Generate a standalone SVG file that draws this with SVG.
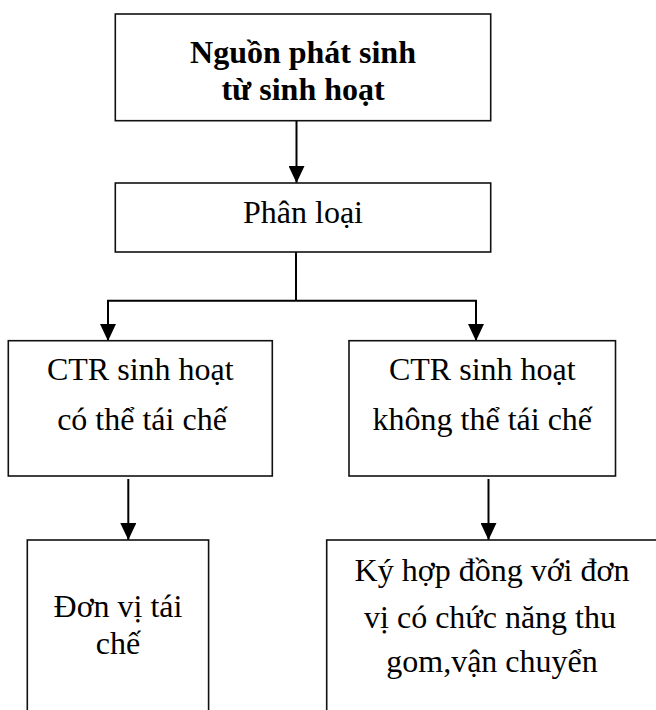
<svg xmlns="http://www.w3.org/2000/svg" width="656" height="710" viewBox="0 0 656 710">
<style>
.box{fill:#fff;stroke:#111;stroke-width:1.6}
text{font-family:'Liberation Serif','DejaVu Serif','Times New Roman',serif;font-size:32px;fill:#000;text-anchor:middle}
.b{font-weight:bold}
.c{fill:none;stroke:#000;stroke-width:2}
</style>
<defs>
<marker id="ah" markerUnits="userSpaceOnUse" markerWidth="18" markerHeight="16" refX="17" refY="8" orient="auto">
<path d="M0,0 L17,8 L0,16 z" fill="#000"/>
</marker>
</defs>
<rect width="656" height="710" fill="#fff"/>
<g id="connectors">
<line class="c" x1="296.5" y1="121" x2="296.5" y2="183" marker-end="url(#ah)"/>
<polyline class="c" points="296,252 296,300.7"/>
<line class="c" x1="107" y1="300.7" x2="477" y2="300.7"/>
<line class="c" x1="108" y1="300" x2="108" y2="341" marker-end="url(#ah)"/>
<line class="c" x1="476" y1="300" x2="476" y2="341" marker-end="url(#ah)"/>
<line class="c" x1="128.3" y1="479" x2="128.3" y2="540" marker-end="url(#ah)"/>
<line class="c" x1="488.5" y1="479" x2="488.5" y2="540" marker-end="url(#ah)"/>
</g>
<g id="n1">
<rect class="box" x="115.3" y="14" width="375.4" height="106.7"/>
<text class="b" x="303" y="63">Nguồn phát sinh</text>
<text class="b" x="303" y="100">từ sinh hoạt</text>
</g>
<g id="n2">
<rect class="box" x="115.3" y="183" width="375.4" height="69"/>
<text x="303" y="223">Phân loại</text>
</g>
<g id="n3">
<rect class="box" x="8.3" y="340.7" width="264" height="135.3"/>
<text x="140.3" y="380">CTR sinh hoạt</text>
<text x="142" y="430">có thể tái chế</text>
</g>
<g id="n4">
<rect class="box" x="349" y="340.7" width="266.5" height="135.3"/>
<text x="482.3" y="380">CTR sinh hoạt</text>
<text x="482.3" y="430">không thể tái chế</text>
</g>
<g id="n5">
<rect class="box" x="27.3" y="540" width="181.3" height="180"/>
<text x="118" y="617">Đơn vị tái</text>
<text x="118" y="654">chế</text>
</g>
<g id="n6">
<rect class="box" x="326.7" y="540" width="332" height="180"/>
<text x="492" y="581">Ký hợp đồng với đơn</text>
<text x="490" y="628">vị có chức năng thu</text>
<text x="492" y="672">gom,vận chuyển</text>
</g>
</svg>
